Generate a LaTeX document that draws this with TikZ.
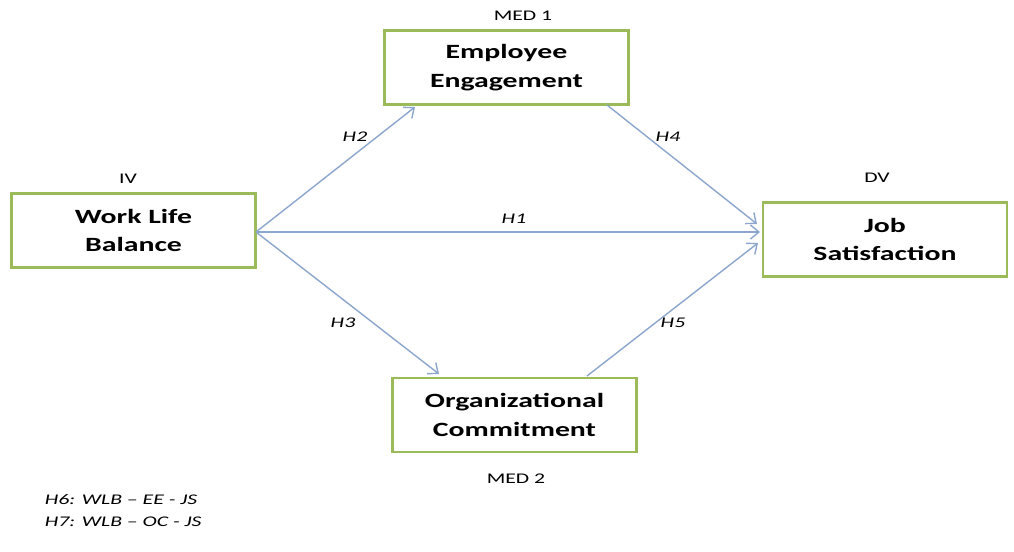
\documentclass[tikz,border=0pt]{standalone}
\usepackage{fontspec}
\setmainfont{Carlito}[FakeStretch=1.47]
\usetikzlibrary{arrows.meta}
\definecolor{boxgreen}{RGB}{155,187,89}
\definecolor{pathblue}{RGB}{140,166,206}
\tikzset{
  varbox/.style={draw=boxgreen, line width=2pt, fill=white, align=center,
    minimum width=6.1cm, minimum height=1.85cm, inner sep=0pt,
    font=\fontsize{14.4}{20.5}\selectfont\bfseries},
  tagtext/.style={font=\fontsize{10.5}{12}\selectfont},
  hyptext/.style={font=\fontsize{10.5}{12}\selectfont\itshape},
  hyparrow/.style={draw=pathblue, line width=1pt,
    -{Straight Barb[length=6pt,width=10pt]}}
}
\begin{document}
\begin{tikzpicture}[x=0.025cm,y=-0.025cm]
                \useasboundingbox (0,0) rectangle (1014,552);

                \node[varbox] (wlb) at (133.5,230.5) {Work Life\\Balance};
                \node[varbox] (ee) at (506.5,67.5) {Employee\\Engagement};
                \node[varbox] (oc) at (514.5,415) {Organizational\\Commitment};
                \node[varbox] (js) at (885,239.5) {Job\\Satisfaction};

                \node[tagtext] (iv) at (128,179) {IV};
                \node[tagtext] (med1) at (523,16) {MED 1};
                \node[tagtext] (dv) at (877,178) {DV};
                \node[tagtext] (med2) at (516,479) {MED 2};

                \coordinate (wlbout) at (256,232);
                \coordinate (eein) at (415,107);
                \coordinate (eeout) at (607,105);
                \coordinate (ocin) at (439,374);
                \coordinate (ocout) at (587,376);
                \coordinate (jsinA) at (757,224);
                \coordinate (jsinB) at (760,232);
                \coordinate (jsinC) at (758,243);

                \draw[hyparrow] (wlbout) -- (eein);
                \draw[hyparrow] (wlbout) -- (jsinB);
                \draw[hyparrow] (wlbout) -- (ocin);
                \draw[hyparrow] (eeout) -- (jsinA);
                \draw[hyparrow] (ocout) -- (jsinC);

                \node[hyptext] (h1) at (514,219) {H1};
                \node[hyptext] (h2) at (355,137) {H2};
                \node[hyptext] (h3) at (343,323) {H3};
                \node[hyptext] (h4) at (668,137) {H4};
                \node[hyptext] (h5) at (673,323) {H5};

                \node[hyptext, anchor=west] (h6) at (40,500) {H6: WLB -- EE - JS};
                \node[hyptext, anchor=west] (h7) at (40,522) {H7: WLB -- OC - JS};
            \end{tikzpicture}
\end{document}
